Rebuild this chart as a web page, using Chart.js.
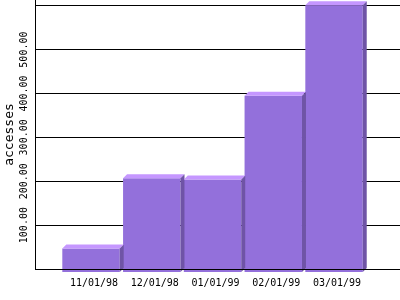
<!DOCTYPE html>
<html>
<head>
<meta charset="utf-8">
<script src="https://cdn.jsdelivr.net/npm/chart.js@4/dist/chart.umd.min.js"></script>
<style>
  html, body { margin: 0; padding: 0; background: #fff; }
  canvas { display: block; }
</style>
</head>
<body>
<canvas id="chart" width="400" height="300"></canvas>
<script>
// data
const categories = ['11/01/98', '12/01/98', '01/01/99', '02/01/99', '03/01/99'];
const accesses = [47, 207, 204, 395, 601];
const yTicks = [0, 100, 200, 300, 400, 500, 600];
const yTickLabels = ['', '100.00', '200.00', '300.00', '400.00', '500.00', ''];

const FONT = 'DejaVu Sans Mono';
const DEPTH = 4;

// draws the lighter top face and darker side face of each bar
const bar3d = {
  id: 'bar3d',
  afterDatasetsDraw(chart) {
    const ctx = chart.ctx;
    chart.getDatasetMeta(0).data.forEach(bar => {
      const { x, y, base, width } = bar.getProps(['x', 'y', 'base', 'width'], true);
      const l = x - width / 2;
      const r = x + width / 2;
      ctx.save();
      ctx.fillStyle = '#c597ff';
      ctx.beginPath();
      ctx.moveTo(l, y);
      ctx.lineTo(l + DEPTH, y - DEPTH);
      ctx.lineTo(r + DEPTH, y - DEPTH);
      ctx.lineTo(r, y);
      ctx.closePath();
      ctx.fill();
      ctx.fillStyle = '#6f54a6';
      ctx.beginPath();
      ctx.moveTo(r, y);
      ctx.lineTo(r + DEPTH, y - DEPTH);
      ctx.lineTo(r + DEPTH, base - DEPTH);
      ctx.lineTo(r, base);
      ctx.closePath();
      ctx.fill();
      ctx.restore();
    });
  }
};

const ctx = document.getElementById('chart').getContext('2d');
new Chart(ctx, {
  type: 'bar',
  data: {
    datasets: [{
      data: accesses.map((v, i) => ({ x: i, y: v })),
      backgroundColor: '#9370db',
      borderWidth: 0,
      base: -7,
      clip: false,
      barPercentage: 0.945,
      categoryPercentage: 1
    }]
  },
  plugins: [bar3d],
  options: {
    responsive: false,
    animation: false,
    devicePixelRatio: 1,
    layout: { padding: 0 },
    plugins: {
      legend: { display: false },
      tooltip: { enabled: false }
    },
    scales: {
      x: {
        type: 'linear',
        offset: false,
        min: -0.922,
        max: 5.086,
        grid: { display: false },
        border: { display: true, color: '#000', width: 1, z: 1 },
        afterBuildTicks: scale => {
          scale.ticks = categories.map((c, i) => ({ value: i }));
        },
        afterFit: scale => {
          scale.height = 31;
          scale.paddingLeft = 0;
          scale.paddingRight = 0;
        },
        ticks: {
          color: '#000',
          font: { family: FONT, size: 10 },
          padding: 0,
          labelOffset: 3,
          maxRotation: 0,
          autoSkip: false,
          callback: v => categories[v] ?? ''
        }
      },
      y: {
        min: 0,
        max: 613,
        grid: { color: '#000', lineWidth: 1, drawTicks: false },
        border: { display: true, color: '#000', width: 1 },
        afterBuildTicks: scale => {
          scale.ticks = yTicks.map(v => ({ value: v }));
        },
        afterFit: scale => {
          scale.width = 35;
          scale.paddingTop = 0;
          scale.paddingBottom = 0;
        },
        title: {
          display: true,
          text: 'accesses',
          color: '#000',
          font: { family: FONT, size: 13 },
          padding: { top: 2, bottom: 0 }
        },
        ticks: {
          color: '#000',
          font: { family: FONT, size: 10 },
          minRotation: 90,
          maxRotation: 90,
          crossAlign: 'center',
          padding: -7,
          autoSkip: false,
          callback: (v, i) => yTickLabels[yTicks.indexOf(v)]
        }
      }
    }
  }
});
</script>
</body>
</html>
